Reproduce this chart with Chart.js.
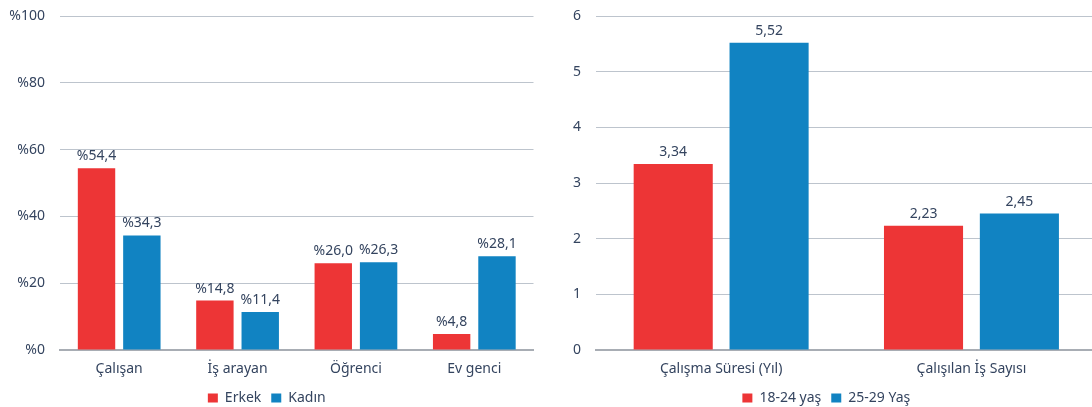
<!DOCTYPE html>
<html><head><meta charset="utf-8">
<script src="https://cdn.jsdelivr.net/npm/chart.js@4.4.1/dist/chart.umd.min.js"></script>
<style>
html,body{margin:0;padding:0;overflow:hidden;background:#fff;width:1092px;height:407px;position:relative;}
#c1{position:absolute;left:0;top:0;}
#c2{position:absolute;left:556px;top:0;}
</style></head><body>
<canvas id="c1" width="555" height="415"></canvas>
<canvas id="c2" width="568" height="415"></canvas>
<script>
// ---- data ----
const statusCategories = ['Çalışan', 'İş arayan', 'Öğrenci', 'Ev genci'];
const erkekValues = [54.4, 14.8, 26.0, 4.8];
const kadinValues = [34.3, 11.4, 26.3, 28.1];
const percentTickLabels = ['%0', '%20', '%40', '%60', '%80', '%100'];

const workCategories = ['Çalışma Süresi (Yıl)', 'Çalışılan İş Sayısı'];
const age1824Values = [3.34, 2.23];
const age2529Values = [5.52, 2.45];
const countTickLabels = ['0', '1', '2', '3', '4', '5', '6'];

// ---- style ----
const RED = '#ED3536';
const BLUE = '#1183C2';
const TEXT = '#34445F';
const GRID = '#BDC4CD';
const BASE = '#A8ADB4';
const FONT = "'Noto Sans', 'Open Sans', sans-serif";

function makeLabelPlugin(fmt) {
  return {
    id: 'valueLabels',
    afterDatasetsDraw(chart) {
      const ctx = chart.ctx;
      ctx.save();
      ctx.font = "14px " + FONT;
      ctx.fillStyle = TEXT;
      ctx.textAlign = 'center';
      ctx.textBaseline = 'alphabetic';
      chart.data.datasets.forEach((ds, i) => {
        const meta = chart.getDatasetMeta(i);
        meta.data.forEach((bar, j) => {
          ctx.fillText(fmt(ds.data[j]), bar.x, bar.y - 8);
        });
      });
      ctx.restore();
    }
  };
}

function makeChart(el, cats, sets, tickLabels, step, max, yWidth, padRight, fmt) {
  return new Chart(el, {
    type: 'bar',
    data: {
      labels: cats,
      datasets: sets.map(s => ({
        label: s.label, data: s.data, backgroundColor: s.color,
        borderWidth: 0, categoryPercentage: 0.766, barPercentage: 0.825
      }))
    },
    options: {
      responsive: false, animation: false,
      layout: { padding: { top: 16, right: padRight, left: 0, bottom: 0 } },
      plugins: {
        tooltip: { enabled: false },
        legend: {
          position: 'bottom',
          labels: { boxWidth: 10, boxHeight: 9, padding: 10, color: TEXT, font: { size: 14, family: FONT } }
        }
      },
      scales: {
        x: {
          grid: { display: false, drawTicks: false },
          border: { display: true, color: BASE, width: 2 },
          ticks: { color: TEXT, font: { size: 14, family: FONT }, padding: 11, maxRotation: 0 },
          afterFit(s) { s.height = 31; s.paddingLeft = 0; s.paddingRight = 0; }
        },
        y: {
          min: 0, max: max,
          grid: { color: GRID, lineWidth: 1, drawTicks: false },
          border: { display: false },
          ticks: {
            stepSize: step, color: TEXT, font: { size: 14, family: FONT }, padding: 15,
            callback: (v) => tickLabels[Math.round(v / step)]
          },
          afterFit(s) { s.width = yWidth; s.paddingTop = 0; s.paddingBottom = 0; }
        }
      }
    },
    plugins: [makeLabelPlugin(fmt)]
  });
}

function start() {
  Chart.defaults.font.family = FONT;
  makeChart(document.getElementById('c1'), statusCategories,
    [{ label: 'Erkek', data: erkekValues, color: RED }, { label: 'Kadın', data: kadinValues, color: BLUE }],
    percentTickLabels, 20, 100, 60, 21.5,
    v => '%' + v.toFixed(1).replace('.', ','));
  makeChart(document.getElementById('c2'), workCategories,
    [{ label: '18-24 yaş', data: age1824Values, color: RED }, { label: '25-29 Yaş', data: age2529Values, color: BLUE }],
    countTickLabels, 1, 6, 40, 27.4,
    v => v.toFixed(2).replace('.', ','));
}
if (document.fonts && document.fonts.load) {
  document.fonts.load("14px 'Noto Sans'").then(start, start);
} else { start(); }
</script>
</body></html>
